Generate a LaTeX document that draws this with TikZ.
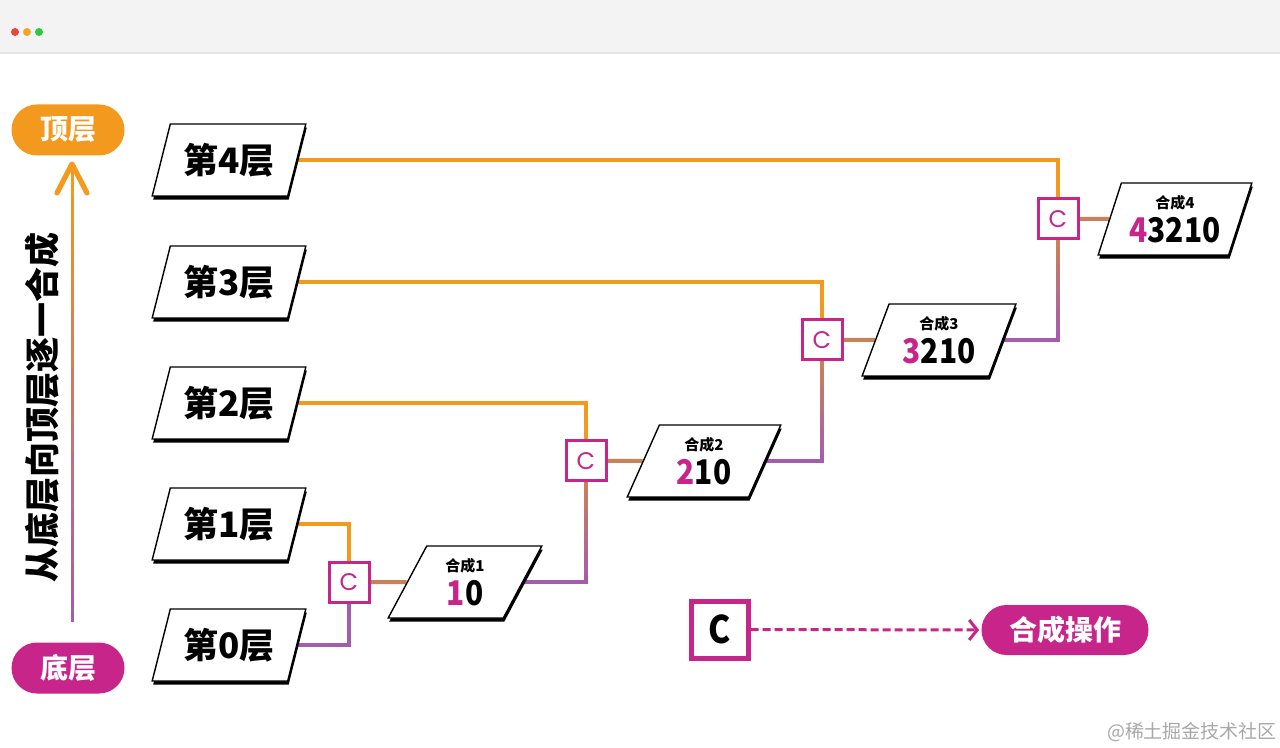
\documentclass[tikz,border=0pt]{standalone}
\usepackage{fontspec}
\newfontfamily\cjk{Noto Sans CJK SC}
\newfontfamily\cjkn[FakeStretch=0.88]{Noto Sans CJK SC}
\newfontfamily\pop{Poppins}
\usetikzlibrary{shapes.geometric,shapes.misc,shadows,calc,arrows.meta}
\pgfdeclarelayer{bg}
\pgfsetlayers{bg,main}
\definecolor{orng}{HTML}{F2991E}
\definecolor{mag}{HTML}{C7258A}
\definecolor{purp}{HTML}{A65CAD}
\definecolor{brn}{HTML}{C98158}
\definecolor{barbg}{HTML}{F3F3F3}
\definecolor{barline}{HTML}{E6E6E6}
\definecolor{dotr}{HTML}{E5453B}
\definecolor{doto}{HTML}{F5A623}
\definecolor{dotg}{HTML}{2DC840}
\definecolor{wm}{HTML}{A8A8A8}
\newcommand\gradv[5]{% from, to, from colour, to colour, line width
  \foreach \i [evaluate=\i as \a using \i/16, evaluate=\i as \b using (\i+1)/16, evaluate=\i as \p using int(100*\i/15)] in {0,...,15}{
    \draw[line width=#5, line cap=butt, color=#4!\p!#3] ($(#1)!\a!(#2)$) -- ($(#1)!\b!(#2)$);
  }}
\begin{document}
\begin{tikzpicture}[x=0.5pt,y=-0.5pt,
  para/.style={trapezium, trapezium left angle=67.5, trapezium right angle=112.5,
    trapezium stretches=true, minimum width=77pt, minimum height=36pt, inner sep=0pt,
    draw=black, line width=0.7pt, fill=white, align=center,
    drop shadow={shadow xshift=0.5pt, shadow yshift=-1.8pt, fill=black, opacity=1}},
  layer/.style={para, font=\cjk\bfseries\fontsize{17.5}{17.5}\selectfont},
  comp/.style={para, font=\cjkn\bfseries\fontsize{17}{17}\selectfont},
  cbox/.style={draw=mag, line width=1.5pt, minimum size=20pt, inner sep=0pt, fill=white,
    text=mag, font=\pop\fontsize{12}{12}\selectfont},
  pill/.style={rounded rectangle, inner sep=0pt, text=white,
    font=\cjk\bfseries\fontsize{14}{14}\selectfont},
  conn/.style={line width=2pt},
]
\useasboundingbox (0,0) rectangle (1280,748);
% layers
\node[layer] (l4) at (229,160) {第4层};
\node[layer] (l3) at (229,282) {第3层};
\node[layer] (l2) at (229,403) {第2层};
\node[layer] (l1) at (229,524) {第1层};
\node[layer] (l0) at (229,645) {第0层};
% combine boxes
\node[cbox] (c1) at (349,582) {C};
\node[cbox] (c2) at (586,461) {C};
\node[cbox] (c3) at (822,340) {C};
\node[cbox] (c4) at (1058,219) {C};
% composites
\newcommand\comptext[2]{{\cjk\fontsize{7.5}{9}\selectfont #1}\\\textcolor{mag}{#2}}
\node[comp] (k1) at (465,582) {\comptext{合成1}{1}0};
\node[comp] (k2) at (704,461) {\comptext{合成2}{2}10};
\node[comp] (k3) at (939,340) {\comptext{合成3}{3}210};
\node[comp] (k4) at (1175,219) {\comptext{合成4}{4}3210};
% left legend
\node[pill, fill=orng, minimum width=56.5pt, minimum height=25.5pt] (top) at (68,130) {顶层};
\node[pill, fill=mag, minimum width=56.5pt, minimum height=25.5pt] (bot) at (68,668) {底层};
\node[rotate=90, font=\cjk\bfseries\fontsize{17.5}{17.5}\selectfont] (vt) at (42,407) {从底层向顶层逐一合成};
\coordinate (ab) at (72,622);
\coordinate (at) at (72,168);
\coordinate (tip) at (72,164);
% bottom legend
\node[draw=mag, line width=2.5pt, minimum size=28.5pt, inner sep=0pt, fill=white,
  font=\cjkn\bfseries\fontsize{19}{19}\selectfont] (lc) at (719.5,629.5) {C};
\node[pill, fill=mag, minimum width=83.5pt, minimum height=25pt] (op) at (1065,630) {合成操作};
\node[text=wm, font=\cjk\fontsize{9.5}{9.5}\selectfont] (wmk) at (1192,732) {@稀土掘金技术社区};
\begin{pgfonlayer}{bg}
  \fill[barbg] (0,0) rectangle (1280,53);
  \draw[barline, line width=0.6pt] (0,53) -- (1280,53);
  \fill[dotr] (15,32) circle (2pt);
  \fill[doto] (27,32) circle (2pt);
  \fill[dotg] (39,32) circle (2pt);
  % layer connectors
  \draw[conn, orng] (l4.east) -| (c4.north);
  \draw[conn, orng] (l3.east) -| (c3.north);
  \draw[conn, orng] (l2.east) -| (c2.north);
  \draw[conn, orng] (l1.east) -| (c1.north);
  \draw[conn, purp] (l0.east) -| (c1.south);
  % combine -> composite
  \draw[conn, brn] (c1.east) -- (k1.west);
  \draw[conn, brn] (c2.east) -- (k2.west);
  \draw[conn, brn] (c3.east) -- (k3.west);
  \draw[conn, brn] (c4.east) -- (k4.west);
  % composite -> next combine
  \coordinate (j1) at (k1.east -| c2.south);
  \coordinate (j2) at (k2.east -| c3.south);
  \coordinate (j3) at (k3.east -| c4.south);
  \draw[conn, purp] (k1.east) -| (c2.south);
  \draw[conn, purp] (k2.east) -| (c3.south);
  \draw[conn, purp] (k3.east) -| (c4.south);
  \gradv{j1}{c2.south}{purp}{brn}{2pt}
  \gradv{j2}{c3.south}{purp}{brn}{2pt}
  \gradv{j3}{c4.south}{purp}{brn}{2pt}
  % vertical arrow
  \gradv{ab}{at}{purp}{orng}{1.5pt}
  \draw[orng, line width=2.6pt, line cap=round, line join=round]
    ($(tip)+(-15,29)$) -- (tip) -- ($(tip)+(15,29)$);
  % legend arrow
  \draw[mag, line width=1.5pt, dash pattern=on 4pt off 2pt,
    -{Straight Barb[length=4pt, width=10pt, line width=1.5pt]}, shorten >=1pt] (lc.east) -- (op.west);
\end{pgfonlayer}
\end{tikzpicture}
\end{document}
